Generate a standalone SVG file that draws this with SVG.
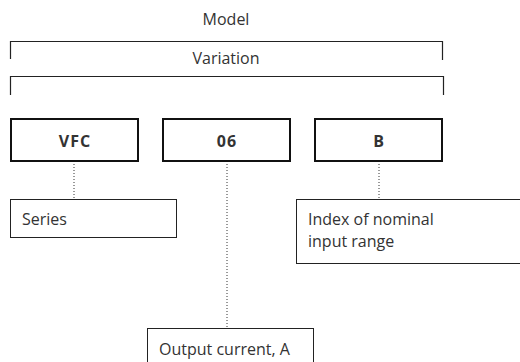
<svg xmlns="http://www.w3.org/2000/svg" width="520" height="362" viewBox="0 0 520 362">
<style>
text{font-family:"Open Sans","Noto Sans","DejaVu Sans",sans-serif;fill:#333;font-size:16px}
.b{font-weight:bold;font-size:16px;letter-spacing:1px}
.code{fill:#fff;stroke:#111;stroke-width:2}
.desc{fill:#fff;stroke:#222;stroke-width:1}
.br{fill:none;stroke:#222;stroke-width:1.2}
.dot{stroke:#333;stroke-width:1;stroke-dasharray:1 2;fill:none}
</style>
<g id="model">
<text x="226" y="25" text-anchor="middle">Model</text>
<path class="br" d="M10.5 59V41.5H442.5V60"/>
</g>
<g id="variation">
<text x="226" y="64" text-anchor="middle">Variation</text>
<path class="br" d="M10.5 95V76.5H443.5V95"/>
</g>
<g id="connectors">
<line class="dot" x1="74" y1="161" x2="74" y2="199"/>
<line class="dot" x1="227" y1="161" x2="227" y2="328"/>
<line class="dot" x1="379" y1="161" x2="379" y2="199"/>
</g>
<g id="vfc"><rect class="code" x="11" y="119" width="127" height="42"/><text class="b" x="75" y="146.5" text-anchor="middle">VFC</text></g>
<g id="n06"><rect class="code" x="163" y="119" width="127" height="42"/><text class="b" x="227" y="146.5" text-anchor="middle">06</text></g>
<g id="b"><rect class="code" x="315" y="119" width="127" height="42"/><text class="b" x="379" y="146.5" text-anchor="middle">B</text></g>
<g id="series"><rect class="desc" x="10.5" y="199.5" width="166" height="38"/><text x="22" y="225">Series</text></g>
<g id="index"><rect class="desc" x="296.5" y="199.5" width="240" height="64"/><text x="308" y="225">Index of nominal</text><text x="308" y="247">input range</text></g>
<g id="output"><rect class="desc" x="147.5" y="328.5" width="166" height="50"/><text x="159" y="355">Output current, A</text></g>
</svg>
